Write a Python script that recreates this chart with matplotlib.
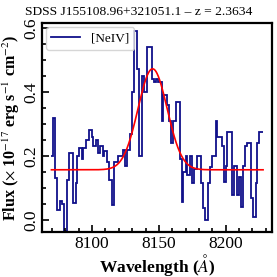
import numpy as np
import matplotlib
matplotlib.use("Agg")
import matplotlib.pyplot as plt
from matplotlib.ticker import MultipleLocator

plt.rcParams['font.family'] = ['Liberation Serif', 'DejaVu Serif']
plt.rcParams['mathtext.fontset'] = 'stix'

# Spectrum (step histogram): bin edges in Angstrom and flux values
edges = [8069.5, 8070.3, 8072.3, 8073.8, 8075.7, 8077.5, 8079.0, 8081.0, 8082.8,
         8086.0, 8088.0, 8089.0, 8090.5, 8092.3, 8093.5, 8095.5, 8098.0, 8099.8,
         8101.0, 8103.0, 8104.7, 8106.0, 8108.0, 8109.2, 8111.0, 8113.0, 8114.8,
         8116.7, 8119.7, 8123.0, 8124.7, 8126.4, 8128.5, 8129.7, 8131.5, 8133.9,
         8135.4, 8137.2, 8139.2, 8141.0, 8144.7, 8146.4, 8147.9, 8149.7, 8152.2,
         8153.4, 8156.4, 8157.9, 8159.2, 8160.9, 8162.9, 8165.9, 8167.2, 8168.4,
         8170.4, 8171.4, 8173.4, 8174.7, 8176.4, 8178.4, 8181.4, 8182.9, 8184.6,
         8187.1, 8188.4, 8189.7, 8192.7, 8193.9, 8197.2, 8198.9, 8200.4, 8201.3,
         8204.6, 8206.4, 8208.8, 8210.3, 8211.4, 8212.9, 8214.6, 8216.3, 8219.1,
         8220.8, 8222.8, 8223.8, 8225.3, 8228.1]
flux = [0.20, 0.32, 0.13, 0.03, 0.06, 0.05, -0.035, 0.125, 0.21,
        0.053, 0.115, 0.20, 0.225, 0.19, 0.225, 0.25, 0.28, 0.26,
        0.23, 0.25, 0.21, 0.23, 0.20, 0.215, 0.18, 0.125, 0.047,
        0.18, 0.20, 0.22, 0.17, 0.22, 0.27, 0.40, 0.59, 0.47,
        0.20, 0.45, 0.40, 0.54, 0.44, 0.43, 0.44, 0.43, 0.31,
        0.39, 0.36, 0.31, 0.24, 0.31, 0.37, 0.19, 0.057, 0.15,
        0.20, 0.14, 0.20, 0.115, 0.16, 0.20, 0.115, 0.037, 0.0,
        0.115, 0.167, 0.20, 0.31, 0.26, 0.23, 0.12, 0.17, 0.276,
        0.078, 0.17, 0.078, 0.135, 0.04, 0.17, 0.23, 0.24, 0.07,
        0.01, 0.115, 0.24, 0.276]

# Gaussian fit parameters
fit_continuum = 0.157
fit_amplitude = 0.315
fit_center = 8145.3
fit_sigma = 10.9

title = "SDSS J155108.96+321051.1 – z = 2.3634"
label = "[NeIV]"

fig = plt.figure(figsize=(2.77, 2.77), dpi=100)
ax = fig.add_axes([0.152, 0.162, 0.830, 0.755])

ax.stairs(flux, edges, color='#10108a', lw=1.3, label=label, baseline=None)
xf = np.linspace(edges[0], edges[-1], 500)
yf = fit_continuum + fit_amplitude * np.exp(-0.5 * ((xf - fit_center) / fit_sigma) ** 2)
ax.plot(xf, yf, color='red', lw=1.2)

ax.set_xlim(8062.5, 8234.8)
ax.set_ylim(-0.0375, 0.615)
ax.xaxis.set_major_locator(MultipleLocator(50))
ax.xaxis.set_minor_locator(MultipleLocator(10))
ax.yaxis.set_major_locator(MultipleLocator(0.2))
ax.yaxis.set_minor_locator(MultipleLocator(0.05))
ax.tick_params(which='both', direction='in', labelsize=12.5, width=1.2)
ax.tick_params(which='major', length=5)
ax.tick_params(which='minor', length=3)
ax.tick_params(axis='y', labelrotation=90, pad=2)
ax.tick_params(axis='x', pad=3)
for lbl in ax.get_yticklabels():
    lbl.set_va('center')
for s in ax.spines.values():
    s.set_linewidth(1.6)

ax.set_xlabel(r"Wavelength ($\AA$)", fontsize=12.5, fontweight='bold', labelpad=0)
ax.set_ylabel(r"Flux ($\times$ 10$^{-17}$ erg s$^{-1}$ cm$^{-2}$)", fontsize=11.5,
              fontweight='bold', labelpad=1)
fig.text(0.5, 0.958, title, fontsize=9.7, ha='center', va='center')
ax.legend(loc='upper left', fontsize=9.5, handlelength=2.2, borderaxespad=0.3)

fig.savefig("out.png", dpi=100)
